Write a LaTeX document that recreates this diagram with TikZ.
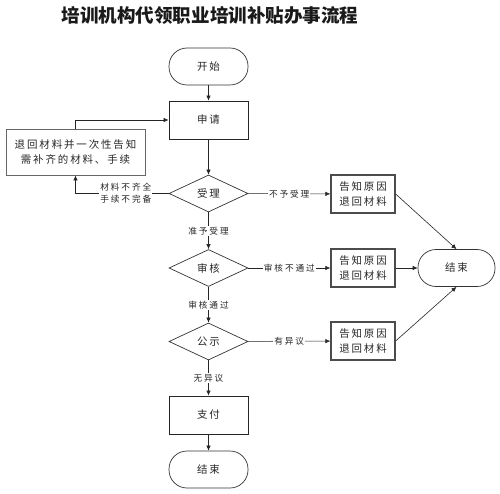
\documentclass[tikz,border=0pt]{standalone}
\usepackage{fontspec}
\setmainfont{Noto Sans CJK SC}
\newfontfamily\cjk[LetterSpace=18]{Noto Sans CJK SC}
\newfontfamily\cjklab[LetterSpace=22]{Noto Sans CJK SC}
\newfontfamily\cjktitle{Noto Sans CJK SC}
\usetikzlibrary{arrows.meta,shapes.geometric}
\begin{document}
\begin{tikzpicture}[x=1bp,y=-1bp,
  base/.style={text=black!85, font={\cjk\fontsize{10.5}{15}\selectfont}, align=center, inner sep=0pt},
  term/.style={base, draw=black!80, line width=0.7bp, minimum width=79bp, minimum height=37bp, rounded corners=18bp},
  proc/.style={base, draw=black!85, line width=0.8bp, minimum width=79bp, minimum height=38bp},
  retbox/.style={base, draw=black!60, line width=0.8bp, minimum width=139bp, minimum height=46bp},
  note/.style={base, draw=black!70, line width=1.3bp, minimum width=64bp, minimum height=38bp},
  dec/.style={base, draw=black!80, line width=0.7bp, diamond, aspect=2.14, minimum width=79bp, minimum height=37bp},
  lab/.style={text=black!85, font={\cjklab\fontsize{8.7}{12}\selectfont}, align=center, fill=white, inner sep=1bp},
  arr/.style={draw=black!85, line width=0.6bp, -{Latex[length=5bp,width=4.5bp]}},
  ln/.style={draw=black!85, line width=0.6bp}
]
\useasboundingbox (0,0) rectangle (500,494);
\node[text=black!90, font={\cjktitle\bfseries\fontsize{18.6}{20}\selectfont}] (title) at (210,15) {培训机构代领职业培训补贴办事流程};

\node[term] (start) at (208.5,66.5) {开始};
\node[proc] (req) at (208.5,120) {申请};
\node[retbox] (ret) at (75.5,152) {退回材料并一次性告知\\需补齐的材料、手续};
\node[dec] (acc) at (208.5,193.5) {受理};
\node[note] (n1) at (363,194) {告知原因\\退回材料};
\node[dec] (rev) at (208.5,268) {审核};
\node[note] (n2) at (363,268) {告知原因\\退回材料};
\node[term, minimum width=77bp] (endr) at (456.5,268) {结束};
\node[dec] (pub) at (208.5,341.5) {公示};
\node[note] (n3) at (363,341) {告知原因\\退回材料};
\node[proc] (pay) at (208.5,415) {支付};
\node[term] (endb) at (208.5,469.5) {结束};

\draw[arr] (start) -- (req);
\draw[arr] (req) -- (acc);
\draw[arr] (acc) -- node[lab, pos=0.5] {准予受理} (rev);
\draw[arr] (rev) -- node[lab, pos=0.5] {审核通过} (pub);
\draw[arr] (pub) -- node[lab, pos=0.5] {无异议} (pay);
\draw[arr] (pay) -- (endb);

\draw[arr] (acc) -- node[lab, pos=0.5] {不予受理} (n1);
\draw[arr] (rev) -- node[lab, pos=0.5] {审核不通过} (n2);
\draw[arr] (pub) -- node[lab, pos=0.5] {有异议} (n3);

\draw[arr] (acc.west) -| node[lab, pos=0.23] {材料不齐全\\手续不完备} (ret.south);
\draw[arr] (ret.north) |- (req.west);

\draw[arr] (n1.east) -- (endr.north);
\draw[arr] (n2) -- (endr);
\draw[arr] (n3.east) -- (endr.south);
\end{tikzpicture}
\end{document}
